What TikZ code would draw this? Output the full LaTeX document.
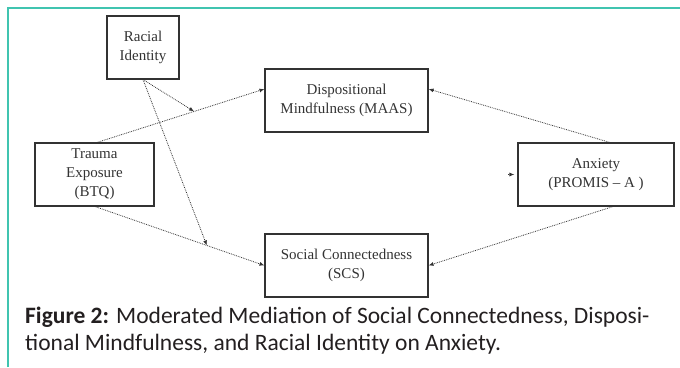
\documentclass[tikz,border=0pt]{standalone}
\usepackage{fontspec}
\setmainfont{Liberation Serif}
\newfontfamily\capfont{Carlito}
\usetikzlibrary{arrows.meta,calc}
\definecolor{frameteal}{RGB}{64,196,176}
\definecolor{boxgray}{RGB}{50,50,50}
\definecolor{captext}{RGB}{35,31,32}
\tikzset{
  varbox/.style={draw=boxgray, line width=1.1pt, minimum height=63pt, align=center,
    font=\fontsize{15}{19}\selectfont, text=black!80, inner sep=0pt},
  link/.style={densely dotted, line width=0.8pt, draw=black!80,
    -{Latex[length=5pt,width=4pt]}},
  captxt/.style={anchor=base west, inner sep=0pt, font=\capfont\fontsize{23.5}{27}\selectfont, text=captext}
}
\begin{document}
\begin{tikzpicture}[x=1pt,y=-1pt]
\useasboundingbox (0,0) rectangle (680,367);
% frame
\draw[frameteal, line width=2pt] (7.5,367) -- (7.5,7.5) -- (680,7.5);
% boxes
\node[varbox, minimum width=72pt] (R) at (143,47.5) {Racial\\Identity};
\node[varbox, minimum width=163pt] (M) at (346.5,100.5) {Dispositional\\Mindfulness (MAAS)};
\node[varbox, minimum width=119pt] (T) at (94.5,174.5) {Trauma\\Exposure\\(BTQ)};
\node[varbox, minimum width=163pt] (S) at (346.5,265.5) {Social Connectedness\\(SCS)};
\node[varbox, minimum width=156pt] (A) at (596,174.5) {Anxiety\\(PROMIS -- A )};
% paths
\draw[link] ([xshift=2.5pt]T.north) -- coordinate[pos=0.58] (m1) ([yshift=11.5pt]M.west);
\draw[link] ([xshift=0.5pt]T.south) -- coordinate[pos=0.66] (m2) (S.west);
\draw[link] (R.south) -- (m1);
\draw[link] (R.south) -- (m2);
\draw[link] ([xshift=14pt]A.north) -- ([yshift=11.5pt]M.east);
\draw[link] ([xshift=17pt]A.south) -- (S.east);
\coordinate (stubs) at ([xshift=-9pt]A.west);
\coordinate (stube) at ([xshift=-3pt]A.west);
\draw[link] (stubs) -- (stube);
% caption
\node[captxt] (c1) at (25,323) {\textbf{Figure 2:} Moderated Mediation of Social Connectedness, Disposi-};
\node[captxt] (c2) at (25,350) {tional Mindfulness, and Racial Identity on Anxiety.};
\end{tikzpicture}
\end{document}
